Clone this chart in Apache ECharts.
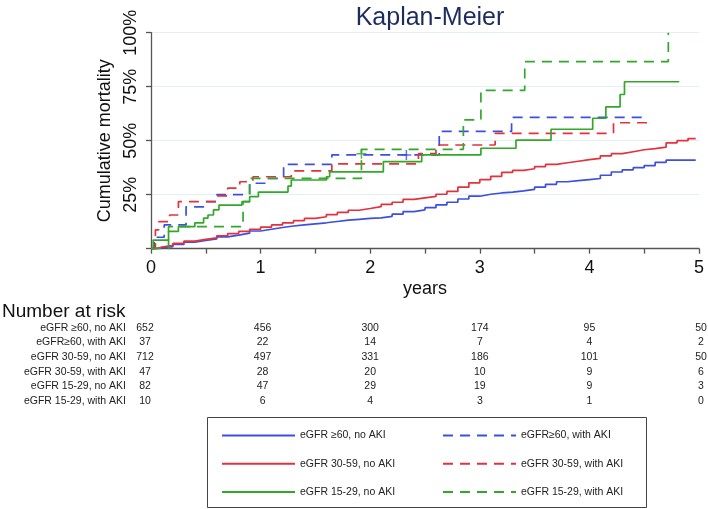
<!DOCTYPE html>
<html>
<head>
<meta charset="utf-8">
<script src="https://cdn.jsdelivr.net/npm/echarts@6/dist/echarts.min.js"></script>
<style>
html,body{margin:0;padding:0;background:#fff;}
#c{width:708px;height:509px;}
</style>
</head>
<body>
<div id="c"></div>
<script>
// ---- data ----
var seriesNames = ['eGFR \u226560, no AKI','eGFR\u226560, with AKI','eGFR 30-59, no AKI','eGFR 30-59, with AKI','eGFR 15-29, no AKI','eGFR 15-29, with AKI'];
var tableLabels = ['eGFR \u226560, no AKI','eGFR\u226560, with AKI','eGFR 30-59, no AKI','eGFR 30-59, with AKI','eGFR 15-29, no AKI','eGFR 15-29, with AKI'];
var riskYears = [0,1,2,3,4,5];
var risk60NoAki   = [652,456,300,174,95,50];
var risk60Aki     = [37,22,14,7,4,2];
var risk3059NoAki = [712,497,331,186,101,50];
var risk3059Aki   = [47,28,20,10,9,6];
var risk1529NoAki = [82,47,29,19,9,3];
var risk1529Aki   = [10,6,4,3,1,0];
var xTickLabels = ['0','1','2','3','4','5'];

// time (years), cumulative mortality (%)
var km60NoAki = [[0,0],[0.05,0.5],[0.1,1],[0.2,2],[0.3,3],[0.4,3.8],[0.5,4.5],[0.6,5.5],[0.7,6.3],[0.8,7.2],[0.9,8.2],[1.0,9],[1.1,9.8],[1.2,10.5],[1.3,11],[1.4,11.5],[1.5,12],[1.6,12.6],[1.7,13.2],[1.8,13.6],[1.9,14],[2.0,14.3],[2.1,15],[2.2,16],[2.3,17.2],[2.4,18],[2.5,19],[2.6,20.3],[2.7,21.5],[2.8,23],[2.9,24.3],[3.0,25.2],[3.1,25.8],[3.2,26.2],[3.3,26.8],[3.4,27.5],[3.5,28.5],[3.6,29.8],[3.7,31],[3.8,31.5],[3.9,32],[4.0,32.5],[4.1,34],[4.2,35.5],[4.3,36.5],[4.4,37.5],[4.5,38.5],[4.6,40],[4.7,41],[4.97,41]];
var km60Aki = [[0,0],[0.03,5.3],[0.12,11],[0.32,19.4],[0.49,21.8],[0.6,25],[0.9,30.3],[1.04,32.5],[1.21,39],[1.65,43.4],[2.63,54.3],[3.29,60.8],[4.51,60.8]];
var km3059NoAki = [[0,0],[0.05,0.8],[0.1,1.5],[0.2,2.5],[0.3,3.5],[0.4,4.3],[0.5,5],[0.6,6],[0.7,7],[0.8,8],[0.9,9],[1.0,10],[1.1,11],[1.2,12],[1.3,13],[1.4,14],[1.5,14.8],[1.6,15.8],[1.7,16.8],[1.8,17.8],[1.9,18.6],[2.0,19.5],[2.1,20.5],[2.2,21.5],[2.3,22.8],[2.4,23.5],[2.5,24.2],[2.6,25.2],[2.7,26.5],[2.8,28.5],[2.9,30.5],[3.0,32],[3.1,33.5],[3.2,35.3],[3.3,36.3],[3.4,37],[3.5,38],[3.6,39],[3.7,39.8],[3.8,40.5],[3.9,41.2],[4.0,41.8],[4.1,43],[4.2,44],[4.3,44.9],[4.4,45.8],[4.5,46.3],[4.6,47],[4.7,49],[4.8,50],[4.9,51],[4.97,51]];
var km3059Aki = [[0,0],[0.04,8.7],[0.07,12.5],[0.17,15.6],[0.25,21.8],[0.6,24.5],[0.70,28],[0.81,31],[0.93,33.3],[1.28,36],[1.65,39.3],[2.44,44],[2.60,48],[3.14,53.4],[4.22,58.3],[4.55,58.3]];
var km1529NoAki = [[0,0],[0.02,4],[0.16,8],[0.25,10.2],[0.40,12],[0.48,14.2],[0.52,15.6],[0.57,18],[0.62,20.2],[0.83,21.8],[0.90,24.1],[0.98,26.2],[1.25,29],[1.28,31.8],[1.60,33.3],[1.63,35.6],[2.12,40.3],[2.47,43.4],[3.01,46.5],[3.33,50.3],[3.65,55.3],[4.03,60.4],[4.15,65.7],[4.28,71.4],[4.32,77.3],[4.82,77.3]];
var km1529Aki = [[0,0],[0.16,10.2],[0.84,21.8],[0.90,32.6],[1.92,46],[2.85,59.6],[3.01,73.3],[3.41,86.6],[4.72,86.6],[4.72,100]];
// censoring marks (+)
var cens60Aki = [[2.33,43.4]];
var cens1529Aki = [[1.92,44]];

var BLUE = '#3c4fe0', RED = '#e2323e', GREEN = '#32a82a';
var FONT = "'Liberation Sans', Arial, Helvetica, sans-serif";

function kmSeries(name, data, color, dashed) {
  return {
    name: name, type: 'line', step: 'end', data: data,
    symbol: 'none', silent: true, animation: false,
    lineStyle: { color: color, width: 1.7, type: dashed ? [10, 7] : 'solid' },
    itemStyle: { color: color }
  };
}
function censSeries(data, color) {
  return {
    name: 'censor', type: 'scatter', data: data, silent: true, animation: false,
    symbol: 'path://M5,0 L5,10 M0,5 L10,5', symbolSize: 10,
    itemStyle: { color: 'none', borderColor: color, borderWidth: 1.5 }
  };
}

var chart = echarts.init(document.getElementById('c'), null, { renderer: 'canvas' });

function legendCol(names, left) {
  return {
    data: names,
    orient: 'vertical', left: left, top: 425, itemWidth: 73, itemHeight: 14, itemGap: 17,
    selectedMode: false,
    itemStyle: { opacity: 0, borderWidth: 0 },
    textStyle: { fontFamily: FONT, fontSize: 10.5, color: '#222' }
  };
}

var option = {
  animation: false,
  backgroundColor: '#fff',
  title: {
    text: 'Kaplan-Meier', left: 425, top: 1, textAlign: 'center',
    textStyle: { fontFamily: FONT, fontSize: 25, fontWeight: 'normal', color: '#1c2c5e' }
  },
  grid: { left: 151, right: 9, top: 32.7, bottom: 260.3, containLabel: false },
  xAxis: {
    type: 'value', min: 0, max: 5, interval: 0.5,
    name: 'years', nameLocation: 'middle', nameGap: 31,
    nameTextStyle: { fontFamily: FONT, fontSize: 18, color: '#111' },
    axisLine: { lineStyle: { color: '#555', width: 1.3 } },
    axisTick: { length: 5, lineStyle: { color: '#555', width: 1.3 } },
    axisLabel: {
      fontFamily: FONT, fontSize: 18, color: '#111', margin: 10,
      formatter: function (v) { return (Math.abs(v - Math.round(v)) < 1e-6) ? xTickLabels[Math.round(v)] : ''; }
    },
    splitLine: { show: false }
  },
  yAxis: {
    type: 'value', min: 0, max: 100, interval: 25,
    name: 'Cumulative mortality', nameLocation: 'middle', nameGap: 31, nameRotate: 90,
    nameTextStyle: { fontFamily: FONT, fontSize: 18, color: '#111' },
    axisLine: { show: true, lineStyle: { color: '#555', width: 1.3 } },
    axisTick: { show: true, length: 5, lineStyle: { color: '#555', width: 1.3 } },
    axisLabel: {
      rotate: 90, fontFamily: FONT, fontSize: 18, color: '#111', margin: 11,
      formatter: function (v) { return v === 0 ? '' : v + '%'; }
    },
    splitLine: { show: true, lineStyle: { color: '#e2f0f5', width: 1 } }
  },
  legend: [
    legendCol([seriesNames[0], seriesNames[2], seriesNames[4]], 216),
    legendCol([seriesNames[1], seriesNames[3], seriesNames[5]], 437)
  ],
  series: [
    kmSeries(seriesNames[0], km60NoAki, BLUE, false),
    kmSeries(seriesNames[1], km60Aki, BLUE, true),
    kmSeries(seriesNames[2], km3059NoAki, RED, false),
    kmSeries(seriesNames[3], km3059Aki, RED, true),
    kmSeries(seriesNames[4], km1529NoAki, GREEN, false),
    kmSeries(seriesNames[5], km1529Aki, GREEN, true),
    censSeries(cens60Aki, BLUE),
    censSeries(cens1529Aki, GREEN)
  ]
};
chart.setOption(option);

// ---- number at risk table ----
var riskRows = [risk60NoAki, risk60Aki, risk3059NoAki, risk3059Aki, risk1529NoAki, risk1529Aki];
var rowY0 = 328, rowStep = 14.6;
var colOffsets = [-6, 2, 0, 0, 0, 2];
var g = [];
g.push({ type: 'text', left: 2, top: 302, style: { text: 'Number at risk', font: '19px ' + FONT, fill: '#111' } });
for (var r = 0; r < riskRows.length; r++) {
  var y = rowY0 + r * rowStep;
  g.push({ type: 'text', x: 126, y: y, style: { text: tableLabels[r], font: '10.5px ' + FONT, fill: '#222', align: 'right', verticalAlign: 'middle' } });
  for (var c = 0; c < riskYears.length; c++) {
    var px = chart.convertToPixel({ xAxisIndex: 0 }, riskYears[c]) + colOffsets[c];
    g.push({ type: 'text', x: px, y: y, style: { text: String(riskRows[r][c]), font: '10.5px ' + FONT, fill: '#222', align: 'center', verticalAlign: 'middle' } });
  }
}
// legend box
g.push({ type: 'rect', shape: { x: 207.5, y: 417.5, width: 439, height: 90 }, style: { fill: 'none', stroke: '#444', lineWidth: 1 }, z: -1 });
chart.setOption({ graphic: g });
</script>
</body>
</html>
